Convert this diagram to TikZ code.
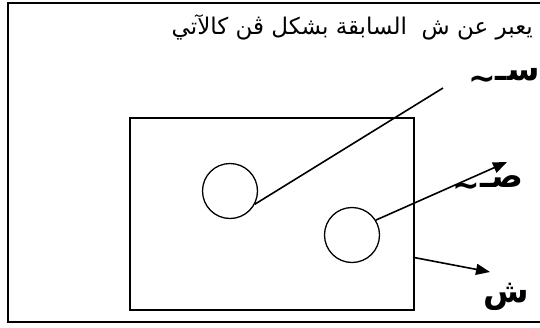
\documentclass[tikz,border=0pt]{standalone}
\usepackage{fontspec}
\usetikzlibrary{arrows.meta, positioning}
\TeXXeTstate=1
\newfontfamily\arabicfont[Script=Arabic]{DejaVu Sans}
\newcommand{\wavetail}{\raisebox{-0.28em}{\textasciitilde}}
\tikzset{
  %% -- page frame --
  venn/frame/.style={line width=2pt, line cap=rect},
  %% -- universal set --
  venn/univ/.style={
    draw, line width=1.4pt, minimum width=284pt, minimum height=192pt,
    inner sep=0pt
  },
  %% -- subsets --
  venn/sub/.style={
    draw, circle, line width=1.3pt, minimum size=55pt, inner sep=0pt
  },
  %% -- pointers --
  venn/arr/.style={-{Triangle[length=14pt,width=11pt]}, line width=1.6pt},
  venn/lnk/.style={line width=1.6pt},
  %% -- labels --
  venn/lbl/.style={
    font=\arabicfont\bfseries\fontsize{33}{36}\selectfont, inner sep=0pt
  },
  venn/title/.style={
    font=\arabicfont\fontsize{23}{26}\selectfont, inner sep=0pt
  },
}
\begin{document}
\begin{tikzpicture}[x=1pt, y=-1pt]
\useasboundingbox (0,0) rectangle (540,327);

%% Frame
\draw[venn/frame] (540,3) -- (8,3) -- (8,322) -- (540,322);

%% Title
\node[venn/title, anchor=base east] (title) at (533,34)
  {\beginR يعبر عن ش\ \ السابقة بشكل ڤن كالآتي\endR};

%% Sets
\node[venn/univ] (univ) at (272,214) {};
\node[venn/sub]  (setS) at (230,191) {};
\node[venn/sub]  (setT) at (352,235) {};

%% Labels
\node[venn/lbl] (lblS) at (504,79)
  {\beginR سـ\wavetail\endR};
\node[venn/lbl] (lblT) at (488,186)
  {\beginR صـ\wavetail\endR};
\node[venn/lbl] (lblU) at (506,297)
  {\beginR ش\endR};
\coordinate (endS) at (443,88);
\coordinate (endT) at (507,162);
\coordinate (endU) at (490,272);

%% Pointers
\draw[venn/lnk] (setS.-28) -- (endS);
\draw[venn/arr] (setT.32) -- (endT);
\draw[venn/arr] (univ.-17.2) -- (endU);
\end{tikzpicture}
\end{document}
